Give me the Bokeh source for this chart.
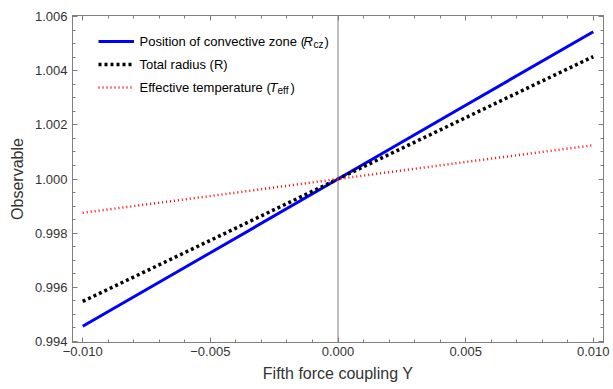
from bokeh.plotting import figure
from bokeh.models import (Range1d, LinearAxis, Span, Label, Legend, LegendItem,
                          SingleIntervalTicker, ColumnDataSource, CustomJSTickFormatter)
from bokeh.embed import file_html
from bokeh.resources import INLINE

# Data
coupling = [-0.010, -0.005, 0.0, 0.005, 0.010]
r_cz = [0.99455, 0.99727, 1.00000, 1.00273, 1.00545]
radius = [0.99547, 0.99773, 1.00000, 1.00227, 1.00453]
t_eff = [0.99875, 0.99937, 1.00000, 1.00063, 1.00125]

FONT = "Liberation Sans"

src = ColumnDataSource(dict(x=coupling, rcz=r_cz, r=radius, t=t_eff))

p = figure(width=613, height=389, output_backend="svg", toolbar_location=None,
           x_range=Range1d(-0.0104, 0.0104), y_range=Range1d(0.99395, 1.00605),
           min_border_left=72, min_border_right=10, min_border_top=15, min_border_bottom=47)
p.xgrid.visible = False
p.ygrid.visible = False
p.outline_line_color = "#7f7f7f"
p.background_fill_color = "white"
p.border_fill_color = "white"

for ax in p.xaxis:
    ax.ticker = SingleIntervalTicker(interval=0.005, num_minor_ticks=5)
for ax in p.yaxis:
    ax.ticker = SingleIntervalTicker(interval=0.002, num_minor_ticks=4)

def style(ax):
    ax.axis_line_color = "#7f7f7f"
    ax.major_tick_line_color = "#7f7f7f"
    ax.minor_tick_line_color = "#7f7f7f"
    ax.major_tick_in = 5
    ax.major_tick_out = 0
    ax.minor_tick_in = 3
    ax.minor_tick_out = 0
    ax.major_label_text_font = FONT
    ax.major_label_text_font_size = "13px"
    ax.major_label_text_color = "#333333"
    ax.axis_label_text_font = FONT
    ax.axis_label_text_font_size = "16px"
    ax.axis_label_text_font_style = "normal"
    ax.axis_label_text_color = "#333333"

p.xaxis.axis_label = "Fifth force coupling Y"
p.yaxis.axis_label = "Observable"
p.xaxis.formatter = CustomJSTickFormatter(code="return Math.abs(tick) < 1e-9 ? '0.000' : tick.toFixed(3).replace('-', '\u2212')")
p.yaxis.formatter = CustomJSTickFormatter(code="return tick.toFixed(3)")
for ax in p.xaxis + p.yaxis:
    style(ax)
p.xaxis.major_label_standoff = 4
p.yaxis.major_label_standoff = 5
p.xaxis.axis_label_standoff = 6
p.yaxis.axis_label_standoff = 6

# mirrored frame ticks (no labels)
top = LinearAxis(ticker=SingleIntervalTicker(interval=0.005, num_minor_ticks=5),
                 formatter=CustomJSTickFormatter(code="return ''"))
right = LinearAxis(ticker=SingleIntervalTicker(interval=0.002, num_minor_ticks=4),
                   formatter=CustomJSTickFormatter(code="return ''"))
for ax in (top, right):
    style(ax)
    ax.major_label_standoff = 0
    ax.major_label_text_font_size = "1px"
p.add_layout(top, "above")
p.add_layout(right, "right")

p.add_layout(Span(location=0, dimension="height", line_color="#7f7f7f", line_width=1))

l1 = p.line("x", "rcz", source=src, line_color="#0000ff", line_width=3)
l2 = p.line("x", "r", source=src, line_color="black", line_width=3.5, line_dash="3 3")
l3 = p.line("x", "t", source=src, line_color="#ff0000", line_width=2.5, line_dash="1 3")

legend = Legend(items=[LegendItem(label=" ", renderers=[l1]),
                       LegendItem(label=" ", renderers=[l2]),
                       LegendItem(label=" ", renderers=[l3])],
                location=(26, 245), glyph_width=36, glyph_height=20, label_height=20,
                spacing=3, padding=0, margin=0, border_line_color=None,
                background_fill_alpha=0, label_text_font_size="13px")
p.add_layout(legend, "center")

# legend texts (frame-relative screen units)
fh = 342 - 15
def lab(x, ycanvas, text, size="13px", style="normal"):
    p.add_layout(Label(x=x - 72, y=fh - (ycanvas - 15), x_units="screen", y_units="screen",
                       text=text, text_font=FONT, text_font_size=size, text_font_style=style,
                       text_baseline="alphabetic", text_color="black"))

lab(139, 41, "Position of convective zone (")
lab(303, 41, "R", style="italic")
lab(313, 44, "cz", size="10px")
lab(324, 41, ")")
lab(139, 64, "Total radius (R)")
lab(139, 87, "Effective temperature (")
lab(269, 87, "T", style="italic")
lab(277, 90, "eff", size="10px")
lab(290, 87, ")")

open("out.html", "w").write(file_html(p, INLINE))
